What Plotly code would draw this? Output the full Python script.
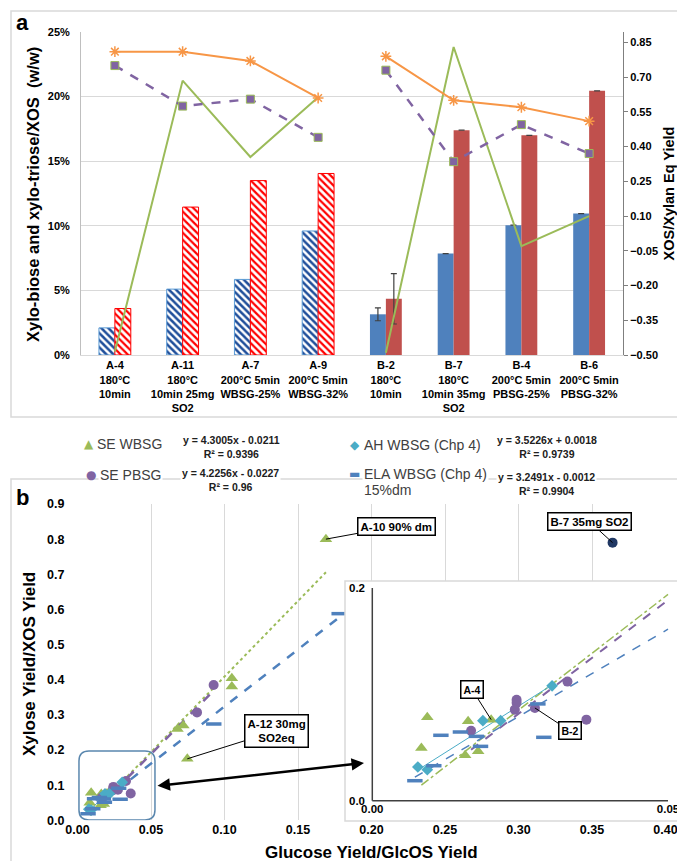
import plotly.graph_objects as go

W, H = 685, 861
FONT = "Liberation Sans"


def px(x):
    return x / W


def py(y):
    return 1 - y / H


# ---------------- Panel a data ----------------
categories = [
    "A-4<br>180°C<br>10min",
    "A-11<br>180°C<br>10min 25mg<br>SO2",
    "A-7<br>200°C 5min<br>WBSG-25%",
    "A-9<br>200°C 5min<br>WBSG-32%",
    "B-2<br>180°C<br>10min",
    "B-7<br>180°C<br>10min 35mg<br>SO2",
    "B-4<br>200°C 5min<br>PBSG-25%",
    "B-6<br>200°C 5min<br>PBSG-32%",
]
xylobiose = [0.021, 0.051, 0.0585, 0.096, 0.0315, 0.0785, 0.1005, 0.1095]
xylotriose = [0.036, 0.1145, 0.135, 0.1405, 0.0435, 0.174, 0.170, 0.2045]
xylobiose_err = [None, None, None, None, 0.005, None, None, None]
xylotriose_err = [None, None, None, None, 0.0195, None, None, None]
yield_orange = [0.81, 0.81, 0.77, 0.61, 0.79, 0.60, 0.57, 0.51]
yield_purple = [0.75, 0.575, 0.605, 0.44, 0.73, 0.335, 0.495, 0.37]
yield_green = [-0.485, 0.685, 0.355, 0.613, -0.49, 0.83, -0.03, 0.10]
group_a = slice(0, 4)
group_b = slice(4, 8)
right_ticks = [-0.50, -0.35, -0.20, -0.05, 0.10, 0.25, 0.40, 0.55, 0.70, 0.85]

# ---------------- Panel b data ----------------
se_wbsg_x = [0.0093, 0.0162, 0.0083, 0.0157, 0.0179, 0.0201, 0.068, 0.072, 0.105, 0.105, 0.0747, 0.169]
se_wbsg_y = [0.0784, 0.0747, 0.0496, 0.0427, 0.0464, 0.0762, 0.26, 0.27, 0.404, 0.381, 0.175, 0.80]
se_pbsg_x = [0.0167, 0.0244, 0.0244, 0.0241, 0.0275, 0.0362, 0.033, 0.0813, 0.0926]
se_pbsg_y = [0.0658, 0.095, 0.092, 0.0856, 0.0872, 0.0762, 0.112, 0.307, 0.385]
b7_x = [0.364]
b7_y = [0.79]
ah_wbsg_x = [0.0077, 0.0093, 0.0187, 0.0217, 0.0304]
ah_wbsg_y = [0.0317, 0.0292, 0.0752, 0.0752, 0.108]
ela_wbsg_x = [0.0072, 0.0104, 0.0116, 0.0149, 0.0176, 0.0183, 0.028, 0.029, 0.0927, 0.178]
ela_wbsg_y = [0.0188, 0.0329, 0.0615, 0.0646, 0.0605, 0.0511, 0.091, 0.0596, 0.274, 0.588]

slopes = {"se_wbsg": 4.3005, "se_pbsg": 4.2256, "ah": 3.5226, "ela": 3.2491}
intercepts = {"se_wbsg": -0.0211, "se_pbsg": -0.0227, "ah": 0.0018, "ela": -0.0012}
r2 = {"se_wbsg": "0.9396", "se_pbsg": "0.96", "ah": "0.9739", "ela": "0.9904"}

GREEN = "#9BBB59"
PURPLE = "#8064A2"
ORANGE = "#F79646"
CYAN = "#4BACC6"
BLUE = "#4F81BD"
RED = "#C0504D"

fig = go.Figure()

# ---------- Panel a: bars ----------
err_style = dict(type="data", color="#404040", thickness=1.2, width=3)
fig.add_trace(go.Bar(
    x=categories[group_a], y=xylobiose[group_a], xaxis="x", yaxis="y", offsetgroup="1",
    marker=dict(color="#1F4E9A", line=dict(color="#5B9BD5", width=1),
                pattern=dict(shape="\\", bgcolor="white", size=5, solidity=0.5)),
    showlegend=False))
fig.add_trace(go.Bar(
    x=categories[group_a], y=xylotriose[group_a], xaxis="x", yaxis="y", offsetgroup="2",
    marker=dict(color="#FF0000", line=dict(color="#FF0000", width=1),
                pattern=dict(shape="\\", bgcolor="white", size=5, solidity=0.45)),
    showlegend=False))
fig.add_trace(go.Bar(
    x=categories[group_b], y=xylobiose[group_b], xaxis="x", yaxis="y", offsetgroup="1",
    marker=dict(color=BLUE, line=dict(width=0)),
    error_y=dict(array=xylobiose_err[group_b], **err_style), showlegend=False))
fig.add_trace(go.Bar(
    x=categories[group_b], y=xylotriose[group_b], xaxis="x", yaxis="y", offsetgroup="2",
    marker=dict(color=RED, line=dict(width=0)),
    error_y=dict(array=xylotriose_err[group_b], **err_style), showlegend=False))

# ---------- Panel a: lines (right axis) ----------
for grp in (group_a, group_b):
    fig.add_trace(go.Scatter(
        x=categories[grp], y=yield_green[grp], xaxis="x", yaxis="y2", mode="lines",
        line=dict(color=GREEN, width=2), showlegend=False))
    fig.add_trace(go.Scatter(
        x=categories[grp], y=yield_purple[grp], xaxis="x", yaxis="y2", mode="lines+markers",
        line=dict(color=PURPLE, width=2.5, dash="dash"),
        marker=dict(symbol="square", size=8, color=PURPLE, line=dict(color=GREEN, width=1)),
        showlegend=False))
    fig.add_trace(go.Scatter(
        x=categories[grp], y=yield_orange[grp], xaxis="x", yaxis="y2", mode="lines+markers",
        line=dict(color=ORANGE, width=2),
        marker=dict(symbol="asterisk-open", size=9, color=ORANGE, line=dict(color=ORANGE, width=1.5)),
        showlegend=False))

# ---------- Panel b ----------
series = [
    ("se_wbsg", se_wbsg_x, se_wbsg_y, GREEN, dict(symbol="triangle-up", size=11, color=GREEN)),
    ("se_pbsg", se_pbsg_x, se_pbsg_y, PURPLE, dict(symbol="circle", size=10, color=PURPLE)),
    ("ah", ah_wbsg_x, ah_wbsg_y, CYAN, dict(symbol="diamond", size=9, color=CYAN)),
    ("ela", ela_wbsg_x, ela_wbsg_y, BLUE, dict(symbol="line-ew", size=11, color=BLUE,
                                               line=dict(color=BLUE, width=3.5))),
]
main_dash = {"se_wbsg": ("dot", 2), "se_pbsg": ("dash", 2.5), "ah": ("solid", 1), "ela": ("dash", 2.5)}
inset_dash = {"se_wbsg": ("dashdot", 1.5), "se_pbsg": ("dash", 2), "ah": ("solid", 1), "ela": ("dash", 1.5)}
INSET_XMAX = 0.05

for key, xs, ys, col, mk in series:
    x0, x1 = min(xs), max(xs)
    m, b = slopes[key], intercepts[key]
    d, w = main_dash[key]
    fig.add_trace(go.Scatter(x=[x0, x1], y=[m * x0 + b, m * x1 + b], xaxis="x2", yaxis="y3",
                             mode="lines", line=dict(color=col, width=w, dash=d), showlegend=False))
    xe = min(x1, INSET_XMAX)
    d, w = inset_dash[key]
    fig.add_trace(go.Scatter(x=[x0, xe], y=[m * x0 + b, m * xe + b], xaxis="x3", yaxis="y4",
                             mode="lines", line=dict(color=col, width=w, dash=d), showlegend=False))

for key, xs, ys, col, mk in series:
    fig.add_trace(go.Scatter(x=xs, y=ys, xaxis="x2", yaxis="y3", mode="markers",
                             marker=mk, showlegend=False))
    fig.add_trace(go.Scatter(x=xs, y=ys, xaxis="x3", yaxis="y4", mode="markers",
                             marker=mk, showlegend=False))

fig.add_trace(go.Scatter(x=b7_x, y=b7_y, xaxis="x2", yaxis="y3", mode="markers",
                         marker=dict(symbol="circle", size=10, color="#203864"), showlegend=False))

# inset geometry (pixel -> data)
ins_left, ins_right, ins_top, ins_bot = 337, 677, 573, 813
ix0_px, ix1_px = 364.3, 660.0
iy0_px, iy1_px = 792.7, 580.0
kx = (ix1_px - ix0_px) / 0.05
ky = (iy0_px - iy1_px) / 0.2
inset_xrange = [-(ix0_px - ins_left) / kx, 0.05 + (ins_right - ix1_px) / kx]
inset_yrange = [-(ins_bot - iy0_px) / ky, 0.2 + (iy1_px - ins_top) / ky]

bold = dict(family=FONT, size=11, color="black", weight="bold")

fig.update_layout(
    template="none",
    width=W, height=H,
    margin=dict(l=0, r=0, t=0, b=0, autoexpand=False),
    paper_bgcolor="white", plot_bgcolor="white",
    font=dict(family=FONT, color="black"),
    barmode="group", bargap=0.53, bargroupgap=0,
    showlegend=False,
    xaxis=dict(domain=[px(73), px(615)], anchor="y", tickfont=bold, showline=True, automargin=False,
               linecolor="#D9D9D9", ticks="", showgrid=False),
    yaxis=dict(domain=[py(347), py(24)], anchor="x", range=[0, 0.25], tickvals=[0, 0.05, 0.1, 0.15, 0.2, 0.25],
               tickformat=".0%", tickfont=bold, showgrid=True, gridcolor="#D9D9D9", zeroline=False,
               showline=True, linecolor="#BFBFBF", ticks="", automargin=False, ticklabelstandoff=8),
    yaxis2=dict(overlaying="y", side="right", anchor="x", range=[-0.5, 0.895], tickvals=right_ticks,
                tickformat=".2f", tickfont=bold, showgrid=False, zeroline=False, showline=True,
                linecolor="#7F7F7F", ticks="outside", ticklen=4, tickcolor="#7F7F7F", automargin=False,
                title=dict(text="XOS/Xylan Eq Yield",
                           font=dict(family=FONT, size=14.5, color="black", weight="bold"), standoff=6)),
    xaxis2=dict(domain=[px(69.5), px(657.5)], anchor="y3", range=[0, 0.4], dtick=0.05, tickformat=".2f",
                tickfont=dict(family=FONT, size=12.5, color="black", weight="bold"), automargin=False,
                showgrid=True, gridcolor="#D9D9D9", zeroline=False, showline=False, ticks=""),
    yaxis3=dict(domain=[py(812.3), py(496)], anchor="x2", range=[0, 0.9], dtick=0.1, tickformat=".1f",
                tickfont=dict(family=FONT, size=12.5, color="black", weight="bold"), automargin=False,
                showgrid=False, zeroline=False, showline=False, ticks="", ticklabelstandoff=12),
    xaxis3=dict(domain=[px(ins_left), px(ins_right)], anchor="free", position=py(iy0_px),
                range=inset_xrange, tickvals=[0, 0.05], ticktext=["0.00", "0.05"], automargin=False,
                tickfont=dict(family=FONT, size=11.5, color="black", weight="bold"),
                showgrid=False, zeroline=False, showline=False, ticks=""),
    yaxis4=dict(domain=[py(ins_bot), py(ins_top)], anchor="free", position=px(357),
                range=inset_yrange, tickvals=[0, 0.2], ticktext=["0.0", "0.2"], automargin=False,
                tickfont=dict(family=FONT, size=11.5, color="black", weight="bold"),
                showgrid=False, zeroline=False, showline=False, ticks=""),
)

shapes = [
    dict(type="rect", xref="paper", yref="paper", x0=px(3), x1=px(681), y0=py(409), y1=py(3),
         line=dict(color="#D9D9D9", width=1.5), layer="below"),
    dict(type="rect", xref="paper", yref="paper", x0=px(3), x1=px(681), y0=py(857), y1=py(471),
         line=dict(color="#D9D9D9", width=1.5), layer="below"),
    dict(type="rect", xref="paper", yref="paper", x0=px(ins_left), x1=px(ins_right), y0=py(ins_bot),
         y1=py(ins_top), line=dict(color="#D9D9D9", width=1.5), layer="above"),
    dict(type="line", xref="x3", yref="y4", x0=0, x1=0.05, y0=0, y1=0, line=dict(color="#404040", width=1.5)),
    dict(type="line", xref="x3", yref="y4", x0=0, x1=0, y0=0, y1=0.2, line=dict(color="#404040", width=1.5)),
]
rx0, rx1, ry0, ry1, rr_x, rr_y = 0.001, 0.0527, 0.001, 0.197, 0.0068, 0.028
path = (f"M {rx0+rr_x},{ry0} L {rx1-rr_x},{ry0} Q {rx1},{ry0} {rx1},{ry0+rr_y} "
        f"L {rx1},{ry1-rr_y} Q {rx1},{ry1} {rx1-rr_x},{ry1} L {rx0+rr_x},{ry1} "
        f"Q {rx0},{ry1} {rx0},{ry1-rr_y} L {rx0},{ry0+rr_y} Q {rx0},{ry0} {rx0+rr_x},{ry0} Z")
shapes.append(dict(type="path", xref="x2", yref="y3", path=path, line=dict(color="#5A87AE", width=1.5)))
fig.update_layout(shapes=shapes)

ann = []
ann.append(dict(text="<b>a</b>", x=px(14), y=py(15), xref="paper", yref="paper", showarrow=False,
                xanchor="center", yanchor="middle", font=dict(size=22, family=FONT)))
ann.append(dict(text="<b>b</b>", x=px(14), y=py(489), xref="paper", yref="paper", showarrow=False,
                xanchor="center", yanchor="middle", font=dict(size=22, family=FONT)))
# axis titles placed as text
ann.append(dict(text="<b>Xylo-biose and xylo-triose/XOS  (w/w)</b>", x=px(25), y=py(187),
                xref="paper", yref="paper", showarrow=False, textangle=-90, xanchor="center",
                yanchor="middle", font=dict(family=FONT, size=16.5, color="black")))
ann.append(dict(text="<b>Xylose Yield/XOS Yield</b>", x=px(21), y=py(656),
                xref="paper", yref="paper", showarrow=False, textangle=-90, xanchor="center",
                yanchor="middle", font=dict(family=FONT, size=17, color="black")))
ann.append(dict(text="<b>Glucose Yield/GlcOS Yield</b>", x=px(363), y=py(844),
                xref="paper", yref="paper", showarrow=False, xanchor="center",
                yanchor="middle", font=dict(family=FONT, size=17, color="black")))

leg_font = dict(family=FONT, size=14, color="#404040")
eq_font = dict(family=FONT, size=10.5, color="#202020", weight="bold")


def eq_text(key):
    m, b = slopes[key], intercepts[key]
    sign = "+" if b >= 0 else "-"
    return f"y = {m:.4f}x {sign} {abs(b):.4f}"


legend_rows = [
    ("▲", GREEN, "SE WBSG", 81, 87, 436, "se_wbsg", 223, 432),
    ("●", PURPLE, "SE PBSG", 83, 90, 467, "se_pbsg", 222, 465),
    ("◆", CYAN, "AH WBSG (Chp 4)", 347, 354, 437, "ah", 539, 432),
    ("▬", BLUE, "ELA WBSG (Chp 4)", 346, 354, 466, "ela", 538, 469),
]
for sym, col, name, sx, tx, ty, key, ex, ey in legend_rows:
    ann.append(dict(text=sym, x=px(sx), y=py(ty), xref="paper", yref="paper", showarrow=False,
                    xanchor="center", yanchor="middle",
                    font=dict(family="DejaVu Sans", size=12, color=col)))
    ann.append(dict(text=name, x=px(tx), y=py(ty), xref="paper", yref="paper", showarrow=False,
                    xanchor="left", yanchor="middle", font=leg_font, bgcolor="white"))
    ann.append(dict(text=eq_text(key) + "<br>R² = " + r2[key], x=px(ex), y=py(ey + 6.5), xref="paper",
                    yref="paper", showarrow=False, xanchor="center", yanchor="middle",
                    font=eq_font, bgcolor="white", align="center"))
ann.append(dict(text="15%dm", x=px(354), y=py(482), xref="paper", yref="paper", showarrow=False,
                xanchor="left", yanchor="middle", font=leg_font, bgcolor="white"))

box = dict(showarrow=True, arrowhead=0, arrowwidth=1, arrowcolor="black", bordercolor="black",
           borderwidth=1.5, bgcolor="white", borderpad=2)
ann.append(dict(text="<b>A-10 90% dm</b>", x=se_wbsg_x[11], y=se_wbsg_y[11], xref="x2", yref="y3",
                ax=71, ay=-13, font=dict(family=FONT, size=11.5), **box))
ann.append(dict(text="<b>B-7 35mg SO2</b>", x=b7_x[0], y=b7_y[0], xref="x2", yref="y3",
                ax=-23, ay=-21, font=dict(family=FONT, size=11.5), **box))
ann.append(dict(text="<b>A-12 30mg<br>SO2eq</b>", x=se_wbsg_x[10], y=se_wbsg_y[10], xref="x2", yref="y3",
                ax=89, ay=-28, font=dict(family=FONT, size=11.5), **box))
ann.append(dict(text="<b>A-4</b>", x=se_wbsg_x[5], y=se_wbsg_y[5], xref="x3", yref="y4",
                ax=-19, ay=-30, font=dict(family=FONT, size=10.5), **box))
ann.append(dict(text="<b>B-2</b>", x=se_pbsg_x[4], y=se_pbsg_y[4], xref="x3", yref="y4",
                ax=35, ay=23, font=dict(family=FONT, size=10.5), **box))
ann.append(dict(text="", x=px(356), y=py(755), xref="paper", yref="paper", ax=-208, ay=23,
                showarrow=True, arrowside="end+start", arrowhead=2, startarrowhead=2,
                arrowwidth=2.5, arrowsize=1, startarrowsize=1, arrowcolor="black",
                standoff=0, startstandoff=0))
fig.update_layout(annotations=ann)

fig.write_html("out.html")
